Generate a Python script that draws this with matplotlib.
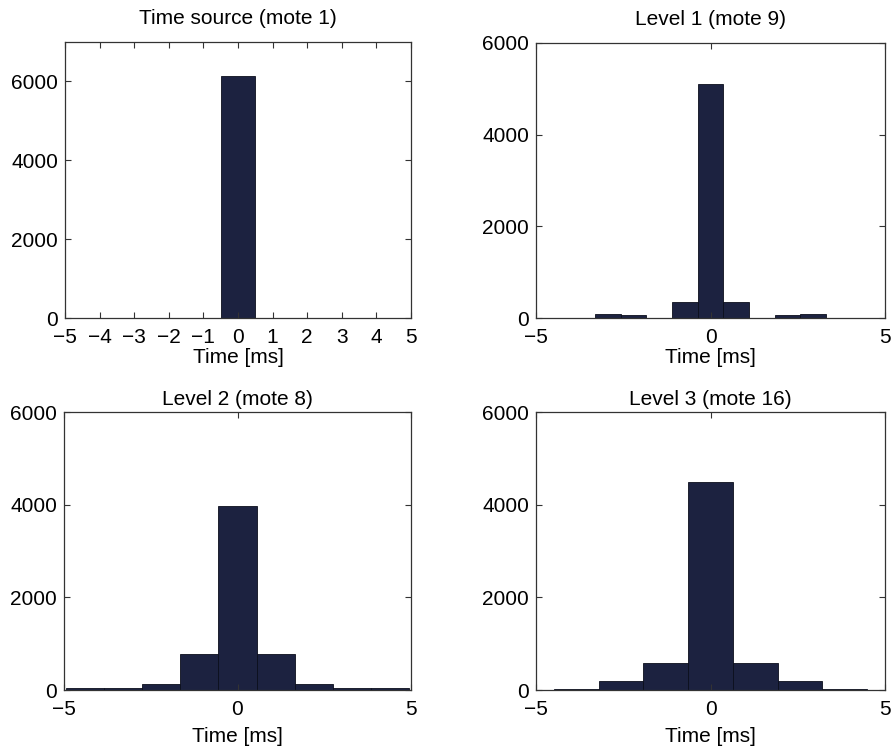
import numpy as np
import matplotlib
matplotlib.use("Agg")
import matplotlib.pyplot as plt

plt.rcParams['font.family'] = ['Liberation Sans', 'DejaVu Sans']

# bin centres (ms) and counts for each mote
titles = ['Time source (mote 1)', 'Level 1 (mote 9)',
          'Level 2 (mote 8)', 'Level 3 (mote 16)']

src_centers = [0.0]
src_counts = [6150]
src_width = 1.0

lvl1_centers = [-3.68, -2.94, -2.21, -1.47, -0.735, 0.0, 0.735, 1.47, 2.21, 2.94, 3.68]
lvl1_counts = [6, 90, 60, 0, 350, 5100, 350, 0, 60, 90, 6]
lvl1_width = 0.735

lvl2_centers = [-4.4, -3.3, -2.2, -1.1, 0.0, 1.1, 2.2, 3.3, 4.4]
lvl2_counts = [45, 45, 130, 780, 3970, 780, 130, 45, 45]
lvl2_width = 1.1

lvl3_centers = [-3.84, -2.56, -1.28, 0.0, 1.28, 2.56, 3.84]
lvl3_counts = [15, 200, 580, 4480, 580, 200, 15]
lvl3_width = 1.28

series = [(src_centers, src_counts, src_width),
          (lvl1_centers, lvl1_counts, lvl1_width),
          (lvl2_centers, lvl2_counts, lvl2_width),
          (lvl3_centers, lvl3_counts, lvl3_width)]

ylims = [7000, 6000, 6000, 6000]
xticks_all = [list(range(-5, 6)), [-5, 0, 5], [-5, 0, 5], [-5, 0, 5]]

W, H = 892, 751
fig = plt.figure(figsize=(W / 100, H / 100), dpi=100)

# axes boxes in pixels: left, top, right, bottom
boxes = [(65, 42, 411, 318), (536, 43, 885, 318),
         (64, 412, 411, 690), (536, 412, 885, 690)]
title_pads = [13, 13, 5, 5]
label_pads = [1, 1, 6, 6]

bar_color = '#1c2240'
edge_color = '#0b0e1c'
axis_color = '#333333'

for i, (centers, counts, width) in enumerate(series):
    l, t, r, b = boxes[i]
    ax = fig.add_axes([l / W, 1 - b / H, (r - l) / W, (b - t) / H])
    ax.bar(centers, counts, width=width, color=bar_color,
           edgecolor=edge_color, linewidth=0.6, align='center')
    ax.set_xlim(-5, 5)
    ax.set_ylim(0, ylims[i])
    ax.set_xticks(xticks_all[i])
    ax.set_xticklabels([str(v).replace('-', '\u2212') for v in xticks_all[i]])
    ax.set_yticks([0, 2000, 4000, 6000])
    ax.tick_params(direction='in', top=True, right=True, length=4,
                   width=0.8, color=axis_color, labelsize=15)
    ax.tick_params(axis='x', pad=7)
    ax.tick_params(axis='y', pad=5)
    for sp in ax.spines.values():
        sp.set_color(axis_color)
        sp.set_linewidth(0.9)
    ax.set_title(titles[i], fontsize=15, pad=title_pads[i])
    ax.set_xlabel('Time [ms]', fontsize=15, labelpad=label_pads[i])

fig.savefig('out.png', dpi=100)
